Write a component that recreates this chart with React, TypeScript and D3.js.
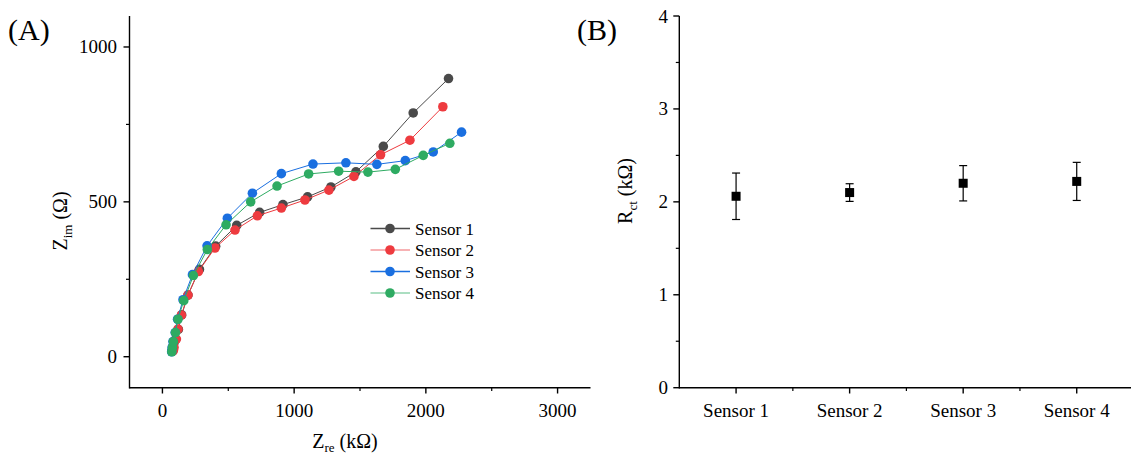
import React from "react";
import * as d3 from "d3";

// ---------- Data (panel A: Nyquist plots) ----------
const sensorNames = ["Sensor 1", "Sensor 2", "Sensor 3", "Sensor 4"];
const sensorColors = ["#4a4a4a", "#ee3b3f", "#1a6fe0", "#2eab62"];
const legendLineColors = ["#4a4a4a", "#f4999b", "#1a6fe0", "#8fd3ac"];

const s1Zre = [72, 78, 88, 100, 121, 146, 194, 281, 404, 564, 738, 915, 1102, 1279, 1469, 1677, 1904, 2172];
const s1Zim = [19, 32, 45, 56, 88, 135, 199, 282, 357, 424, 466, 491, 516, 548, 597, 679, 787, 898];
const s2Zre = [80, 84, 88, 106, 118, 144, 194, 273, 399, 551, 721, 903, 1082, 1264, 1454, 1656, 1879, 2129];
const s2Zim = [18, 22, 30, 57, 89, 134, 199, 275, 351, 409, 455, 480, 506, 538, 582, 652, 699, 807];
const s3Zre = [70, 74, 80, 97, 115, 156, 228, 339, 493, 683, 903, 1143, 1393, 1628, 1844, 2056, 2271];
const s3Zim = [16, 30, 49, 78, 121, 184, 265, 358, 447, 528, 591, 622, 626, 621, 633, 661, 725];
const s4Zre = [71, 76, 83, 99, 118, 162, 235, 341, 483, 670, 870, 1110, 1338, 1560, 1768, 1980, 2182];
const s4Zim = [16, 30, 49, 78, 121, 181, 262, 346, 426, 500, 551, 590, 599, 596, 605, 650, 689];

const aXTicks = [0, 1000, 2000, 3000];
const aXMinor = [500, 1500, 2500];
const aYTicks = [0, 500, 1000];
const aYMinor = [250, 750];

// ---------- Data (panel B: Rct) ----------
const rctMeans = [2.06, 2.1, 2.2, 2.22];
const rctErrors = [0.25, 0.095, 0.19, 0.205];
const bYTicks = [0, 1, 2, 3, 4];
const bYMinor = [0.5, 1.5, 2.5, 3.5];
const bXMinor = [1.5, 2.5, 3.5];

const FONT = "'Liberation Serif', 'Times New Roman', serif";

export default function App() {
  const W = 1131;
  const H = 458;

  // Panel A scales
  const ax = d3.scaleLinear().domain([-250, 3250]).range([129.5, 590.5]);
  const ay = d3.scaleLinear().domain([-100, 1100]).range([387.7, 16]);
  // Panel B scales
  const bx = d3.scaleLinear().domain([0.5, 4.5]).range([679.3, 1133.5]);
  const by = d3.scaleLinear().domain([0, 4]).range([387.7, 16]);

  const seriesX = [s1Zre, s2Zre, s3Zre, s4Zre];
  const seriesY = [s1Zim, s2Zim, s3Zim, s4Zim];
  const line = d3
    .line<[number, number]>()
    .x((d) => ax(d[0]))
    .y((d) => ay(d[1]));

  const axisStroke = 1.4;
  const tickFont = 19;

  return (
    <svg width={W} height={H} style={{ display: "block", position: "absolute", left: 0, top: 0 }} fontFamily={FONT}>
      <rect x={0} y={0} width={W} height={H} fill="#fff" />

      {/* ===== Panel A ===== */}
      <text x={8} y={40} fontSize={30}>(A)</text>

      {/* series */}
      {seriesX.map((xs, i) => {
        const pts = xs.map((x, j) => [x, seriesY[i][j]] as [number, number]);
        return (
          <g key={i}>
            <path d={line(pts) || ""} fill="none" stroke={sensorColors[i]} strokeWidth={1} />
            {pts.map((p, j) => (
              <circle key={j} cx={ax(p[0])} cy={ay(p[1])} r={4.8} fill={sensorColors[i]} />
            ))}
          </g>
        );
      })}

      {/* axes */}
      <line x1={ax.range()[0]} x2={ax.range()[1]} y1={387.7} y2={387.7} stroke="#000" strokeWidth={axisStroke} />
      <line x1={129.5} x2={129.5} y1={16} y2={388.4} stroke="#000" strokeWidth={axisStroke} />
      {aXTicks.map((t) => (
        <g key={"ax" + t}>
          <line x1={ax(t)} x2={ax(t)} y1={387.7} y2={393.5} stroke="#000" strokeWidth={1.4} />
          <text x={ax(t)} y={417} fontSize={tickFont} textAnchor="middle">{t}</text>
        </g>
      ))}
      {aXMinor.map((t) => (
        <line key={"axm" + t} x1={ax(t)} x2={ax(t)} y1={387.7} y2={391} stroke="#000" strokeWidth={1.2} />
      ))}
      {aYTicks.map((t) => (
        <g key={"ay" + t}>
          <line x1={129.5} x2={123.5} y1={ay(t)} y2={ay(t)} stroke="#000" strokeWidth={1.4} />
          <text x={117} y={ay(t) + 6.5} fontSize={tickFont} textAnchor="end">{t}</text>
        </g>
      ))}
      {aYMinor.map((t) => (
        <line key={"aym" + t} x1={129.5} x2={126} y1={ay(t)} y2={ay(t)} stroke="#000" strokeWidth={1.2} />
      ))}

      {/* axis titles */}
      <text x={345} y={448} fontSize={20} textAnchor="middle">
        Z<tspan fontSize={13} dy={4}>re</tspan>
        <tspan dy={-4}> (kΩ)</tspan>
      </text>
      <text transform={`translate(67,221) rotate(-90)`} fontSize={20} textAnchor="middle">
        Z<tspan fontSize={13} dy={5}>im</tspan>
        <tspan dy={-5}> (Ω)</tspan>
      </text>

      {/* legend */}
      {sensorNames.map((n, i) => {
        const y = 228.5 + i * 21.5;
        return (
          <g key={"lg" + i}>
            <line x1={370.5} x2={410} y1={y} y2={y} stroke={legendLineColors[i]} strokeWidth={1.3} />
            <circle cx={390} cy={y} r={4.8} fill={sensorColors[i]} />
            <text x={415} y={y + 6} fontSize={17}>{n}</text>
          </g>
        );
      })}

      {/* ===== Panel B ===== */}
      <text x={577} y={40} fontSize={30}>(B)</text>

      {rctMeans.map((m, i) => {
        const cx = bx(i + 1);
        const top = by(m + rctErrors[i]);
        const bot = by(m - rctErrors[i]);
        return (
          <g key={"b" + i}>
            <line x1={cx} x2={cx} y1={top} y2={bot} stroke="#000" strokeWidth={1.2} />
            <line x1={cx - 4} x2={cx + 4} y1={top} y2={top} stroke="#000" strokeWidth={1.2} />
            <line x1={cx - 4} x2={cx + 4} y1={bot} y2={bot} stroke="#000" strokeWidth={1.2} />
            <rect x={cx - 4.5} y={by(m) - 4.5} width={9} height={9} fill="#000" />
          </g>
        );
      })}

      <line x1={679.3} x2={1131} y1={387.7} y2={387.7} stroke="#000" strokeWidth={axisStroke} />
      <line x1={679.3} x2={679.3} y1={16} y2={388.4} stroke="#000" strokeWidth={axisStroke} />
      {sensorNames.map((n, i) => (
        <g key={"bx" + i}>
          <line x1={bx(i + 1)} x2={bx(i + 1)} y1={387.7} y2={393.5} stroke="#000" strokeWidth={1.4} />
          <text x={bx(i + 1)} y={417} fontSize={tickFont} textAnchor="middle">{n}</text>
        </g>
      ))}
      {bXMinor.map((t) => (
        <line key={"bxm" + t} x1={bx(t)} x2={bx(t)} y1={387.7} y2={391} stroke="#000" strokeWidth={1.2} />
      ))}
      {bYTicks.map((t) => (
        <g key={"by" + t}>
          <line x1={679.3} x2={673.3} y1={by(t)} y2={by(t)} stroke="#000" strokeWidth={1.4} />
          <text x={668} y={by(t) + 6.5} fontSize={tickFont} textAnchor="end">{t}</text>
        </g>
      ))}
      {bYMinor.map((t) => (
        <line key={"bym" + t} x1={679.3} x2={675.8} y1={by(t)} y2={by(t)} stroke="#000" strokeWidth={1.2} />
      ))}

      <text transform={`translate(632,191) rotate(-90)`} fontSize={20} textAnchor="middle">
        R<tspan fontSize={13} dy={5}>ct</tspan>
        <tspan dy={-5}> (kΩ)</tspan>
      </text>
    </svg>
  );
}
